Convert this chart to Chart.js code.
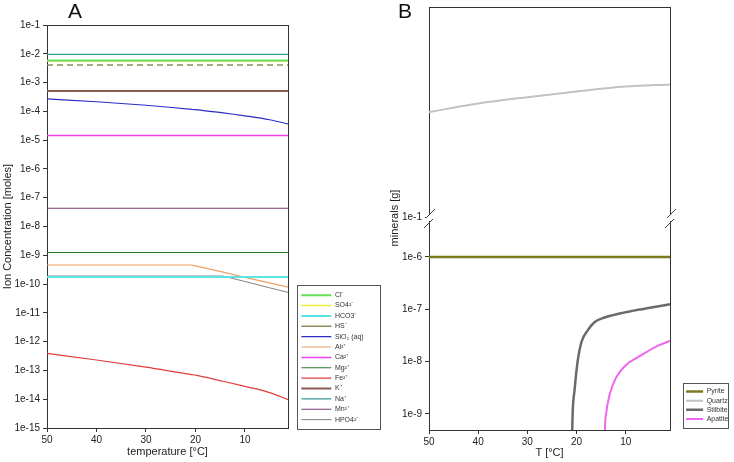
<!DOCTYPE html>
<html>
<head>
<meta charset="utf-8">
<script src="https://cdn.jsdelivr.net/npm/chart.js@4.4.1/dist/chart.umd.min.js"></script>
<style>
  body { margin: 0; background: #fff; width: 734px; height: 462px; overflow: hidden; position: relative; font-family: Arial, "Liberation Sans", sans-serif; }
  canvas { position: absolute; top: 0; }
  .panel { position: absolute; top: 0; font-size: 21px; line-height: 21px; color: #111; }
</style>
</head>
<body>
<canvas id="chartA" width="384" height="462" style="left:0"></canvas>
<canvas id="chartB" width="350" height="462" style="left:384px"></canvas>
<div class="panel" style="left:68px">A</div>
<div class="panel" style="left:398px">B</div>
<script>
// ---- panel A : ion concentrations [moles] vs temperature ----
var tempA = [50, 40, 30, 20.8, 20, 14.4, 10, 5, 1];
var cl   = [5.8e-3, 5.8e-3, 5.8e-3, 5.8e-3, 5.8e-3, 5.8e-3, 5.8e-3, 5.8e-3, 5.8e-3];
var so4  = [5.6e-3, 5.6e-3, 5.6e-3, 5.6e-3, 5.6e-3, 5.6e-3, 5.6e-3, 5.6e-3, 5.6e-3];
var hco3 = [1.75e-10, 1.75e-10, 1.75e-10, 1.75e-10, 1.75e-10, 1.75e-10, 1.75e-10, 1.75e-10, 1.75e-10];
var hs   = [4.1e-3, 4.1e-3, 4.1e-3, 4.1e-3, 4.1e-3, 4.1e-3, 4.1e-3, 4.1e-3, 4.1e-3];
var sio2 = [2.7e-4, 2.16e-4, 1.63e-4, 1.18e-4, 1.14e-4, 8.9e-5, 7.0e-5, 5.1e-5, 3.56e-5];
var al   = [4.6e-10, 4.6e-10, 4.6e-10, 4.6e-10, 4.3e-10, 2.6e-10, 1.7e-10, 1.1e-10, 7.6e-11];
var ca   = [1.45e-5, 1.45e-5, 1.45e-5, 1.45e-5, 1.45e-5, 1.45e-5, 1.45e-5, 1.45e-5, 1.45e-5];
var mg   = [1.25e-9, 1.25e-9, 1.25e-9, 1.25e-9, 1.25e-9, 1.25e-9, 1.25e-9, 1.25e-9, 1.25e-9];
var fe   = [3.9e-13, 2.3e-13, 1.3e-13, 7.2e-14, 6.9e-14, 4.2e-14, 2.8e-14, 1.7e-14, 9.3e-15];
var k    = [5.1e-4, 5.1e-4, 5.1e-4, 5.1e-4, 5.1e-4, 5.1e-4, 5.1e-4, 5.1e-4, 5.1e-4];
var na   = [9.5e-3, 9.5e-3, 9.5e-3, 9.5e-3, 9.5e-3, 9.5e-3, 9.5e-3, 9.5e-3, 9.5e-3];
var mn   = [4.3e-8, 4.3e-8, 4.3e-8, 4.3e-8, 4.3e-8, 4.3e-8, 4.3e-8, 4.3e-8, 4.3e-8];
var hpo4 = [1.9e-10, 1.9e-10, 1.9e-10, 1.9e-10, 1.9e-10, 1.9e-10, 1.23e-10, 7.4e-11, 5e-11];
var yTicksA = [1e-15, 1e-14, 1e-13, 1e-12, 1e-11, 1e-10, 1e-9, 1e-8, 1e-7, 1e-6, 1e-5, 1e-4, 1e-3, 1e-2, 1e-1];

// ---- panel B : minerals [g] vs temperature ----
var tempB = [50, 40, 30, 20, 10, 1];
var pyrite = [1e-6, 1e-6, 1e-6, 1e-6, 1e-6, 1e-6];
var quartz = [0.316, 0.347, 0.372, 0.396, 0.418, 0.428];
var tempStilbite = [20.93, 20.8, 20.4, 19.8, 19.0, 17.7, 16.3, 14.3, 11.2, 7.2, 5.1, 1];
var stilbite = [3e-10, 1e-9, 2.9e-9, 9.8e-9, 2.37e-8, 4.0e-8, 5.7e-8, 6.97e-8, 8.3e-8, 9.9e-8, 1.07e-7, 1.25e-7];
var tempApatite = [14.3, 14.2, 14.0, 13.3, 12, 10, 7, 4, 1];
var apatite = [2e-10, 6e-10, 1e-9, 2.3e-9, 4.9e-9, 8.5e-9, 1.3e-8, 1.9e-8, 2.5e-8];
var yTicksHi = [0.1];
var yTicksLo = [1e-9, 1e-8, 1e-7, 1e-6];

var xTicks = [50, 40, 30, 20, 10];

Chart.defaults.font.family = 'Arial, "Liberation Sans", sans-serif';
Chart.defaults.color = '#222';

function pts(xs, ys) {
  return xs.map(function(x, i) { return {x: x, y: ys[i]}; });
}
function expLabel(v) {
  return '1e' + Math.round(Math.log10(v));
}
function fixTicks(list) {
  return function(scale) {
    scale.ticks = list.map(function(v) { return {value: v}; });
  };
}
// fixed axis width, and no extra room asked for the end labels
function fixWidth(w) {
  return function(scale) {
    scale.width = w;
    scale.paddingTop = 0;
    scale.paddingBottom = 0;
  };
}

var tickGrid = {display: true, drawOnChartArea: false, drawTicks: true, tickLength: 4, color: '#333'};
var frameBorder = {display: true, color: '#333', width: 1};

// top frame edge, axis breaks, legend box, free y title
var decor = {
  id: 'decor',
  afterLayout: function(chart, args, opts) {
    if (opts.legendLift) chart.legend.bottom -= opts.legendLift;
  },
  afterDraw: function(chart, args, opts) {
    var a = chart.chartArea, ctx = chart.ctx;
    ctx.save();
    ctx.strokeStyle = '#333';
    ctx.lineWidth = 1;
    ctx.beginPath();
    ctx.moveTo(a.left, Math.round(a.top) + 0.5);
    ctx.lineTo(a.right, Math.round(a.top) + 0.5);
    ctx.stroke();

    if (opts.breakScale) {
      var yb = Math.round(chart.scales[opts.breakScale].bottom);
      [chart.scales[opts.breakScale].right, a.right].forEach(function(x) {
        ctx.fillStyle = '#fff';
        ctx.fillRect(x - 2, yb - 3, 4, 7);
        ctx.strokeStyle = '#444';
        ctx.beginPath();
        ctx.moveTo(x - 3, yb + 1); ctx.lineTo(x + 6, yb - 8);
        ctx.moveTo(x - 5, yb + 11); ctx.lineTo(x + 4, yb + 2);
        ctx.stroke();
      });
    }

    if (opts.legendRect) {
      var r = opts.legendRect;
      ctx.strokeStyle = '#555';
      ctx.strokeRect(r[0] + 0.5, r[1] + 0.5, r[2], r[3]);
    }

    if (opts.sideTitle) {
      ctx.translate(opts.sideTitle.x, opts.sideTitle.y);
      ctx.rotate(-Math.PI / 2);
      ctx.font = '11px Arial, "Liberation Sans", sans-serif';
      ctx.fillStyle = '#222';
      ctx.textAlign = 'center';
      ctx.textBaseline = 'middle';
      ctx.fillText(opts.sideTitle.text, 0, 0);
    }
    ctx.restore();
  }
};

function line(label, xs, ys, color, width, extra) {
  var ds = {
    label: label,
    data: pts(xs, ys),
    borderColor: color,
    backgroundColor: color,
    borderWidth: width,
    pointRadius: 0,
    fill: false
  };
  return Object.assign(ds, extra || {});
}

var smooth = {cubicInterpolationMode: 'monotone'};

new Chart(document.getElementById('chartA').getContext('2d'), {
  type: 'line',
  data: {
    datasets: [
      line('Cl⁻', tempA, cl, '#66de5a', 2),
      line('SO4²⁻', tempA, so4, '#eeee3a', 1.5),
      line('HCO3⁻', tempA, hco3, '#5ce4e4', 2),
      line('HS⁻', tempA, hs, '#8f8d5c', 1.5, {borderDash: [6, 4]}),
      line('SiO₂ (aq)', tempA, sio2, '#2c2cc6', 1.2, smooth),
      line('Al³⁺', tempA, al, '#f0a064', 1.2),
      line('Ca²⁺', tempA, ca, '#ee44ee', 1.5),
      line('Mg²⁺', tempA, mg, '#2a7a2a', 1.2),
      line('Fe²⁺', tempA, fe, '#e03c3c', 1.2, smooth),
      line('K⁺', tempA, k, '#8c5a50', 1.8),
      line('Na⁺', tempA, na, '#3a9a9a', 1.2),
      line('Mn²⁺', tempA, mn, '#7a3a7a', 1.2),
      line('HPO4²⁻', tempA, hpo4, '#808080', 1)
    ]
  },
  options: {
    responsive: false,
    animation: false,
    events: [],
    layout: {padding: {top: 25, right: 16, bottom: 2, left: 0}},
    scales: {
      x: {
        type: 'linear', reverse: true, min: 1.3, max: 50,
        afterBuildTicks: fixTicks(xTicks),
        afterFit: function(s) { s.height = 32; },
        ticks: {font: {size: 10}, padding: 2},
        grid: tickGrid, border: frameBorder,
        title: {display: true, text: 'temperature [°C]', font: {size: 11}, padding: {top: 0, bottom: 1}}
      },
      y: {
        type: 'logarithmic', min: 1e-15, max: 1e-1,
        afterBuildTicks: fixTicks(yTicksA),
        afterFit: fixWidth(47),
        ticks: {font: {size: 10}, padding: 3, autoSkip: false, callback: expLabel},
        grid: tickGrid, border: frameBorder,
        title: {display: true, text: 'Ion Concentration [moles]', font: {size: 11}, padding: {top: 1, bottom: 0}}
      },
      yR: {
        type: 'linear', position: 'right', min: 0, max: 1,
        afterFit: function(s) { s.width = 10; },
        ticks: {display: false}, grid: {display: false}, border: frameBorder
      }
    },
    plugins: {
      legend: {
        position: 'right', align: 'end', fullSize: false, maxWidth: 70,
        labels: {
          usePointStyle: true, pointStyle: 'line', pointStyleWidth: 30,
          font: {size: 7}, padding: 3.375, color: '#333'
        }
      },
      tooltip: {enabled: false},
      decor: {legendLift: 1.5, legendRect: [297, 285, 83, 144]}
    }
  },
  plugins: [decor]
});

new Chart(document.getElementById('chartB').getContext('2d'), {
  type: 'line',
  data: {
    datasets: [
      line('Pyrite', tempB, pyrite, '#7b7b1e', 2.5, {yAxisID: 'yLo'}),
      line('Quartz', tempB, quartz, '#c2c2c2', 2, {yAxisID: 'yHi', cubicInterpolationMode: 'monotone'}),
      line('Stilbite', tempStilbite, stilbite, '#6a6a6a', 2.5, {yAxisID: 'yLo', cubicInterpolationMode: 'monotone'}),
      line('Apatite', tempApatite, apatite, '#ee66ee', 2, {yAxisID: 'yLo', cubicInterpolationMode: 'monotone'})
    ]
  },
  options: {
    responsive: false,
    animation: false,
    events: [],
    layout: {padding: {top: 7, right: 5, bottom: 2, left: 0}},
    scales: {
      x: {
        type: 'linear', reverse: true, min: 1, max: 50,
        afterBuildTicks: fixTicks(xTicks),
        afterFit: function(s) { s.height = 30; },
        ticks: {font: {size: 10}, padding: 2},
        grid: tickGrid, border: frameBorder,
        title: {display: true, text: 'T [°C]', font: {size: 11}, padding: {top: 0, bottom: 0}}
      },
      yLo: {
        type: 'logarithmic', position: 'left', stack: 'minerals', stackWeight: 213,
        min: 4.94e-10, max: 5.8e-6,
        afterBuildTicks: fixTicks(yTicksLo),
        afterFit: fixWidth(45),
        ticks: {font: {size: 10}, padding: 3, autoSkip: false, callback: expLabel},
        grid: tickGrid, border: frameBorder
      },
      yHi: {
        type: 'logarithmic', position: 'left', stack: 'minerals', stackWeight: 210,
        min: 0.1, max: 1,
        afterBuildTicks: fixTicks(yTicksHi),
        afterFit: fixWidth(45),
        ticks: {font: {size: 10}, padding: 3, autoSkip: false, callback: expLabel},
        grid: tickGrid, border: frameBorder
      },
      yR: {
        type: 'linear', position: 'right', min: 0, max: 1,
        afterFit: function(s) { s.width = 14; },
        ticks: {display: false}, grid: {display: false}, border: frameBorder
      }
    },
    plugins: {
      legend: {
        position: 'right', align: 'end', fullSize: false, maxWidth: 45,
        labels: {
          usePointStyle: true, pointStyle: 'line', pointStyleWidth: 17,
          font: {size: 7}, padding: 2.125, color: '#333'
        }
      },
      tooltip: {enabled: false},
      decor: {
        legendLift: 5.5,
        legendRect: [299, 383, 45, 45],
        breakScale: 'yHi',
        sideTitle: {text: 'minerals [g]', x: 11, y: 218}
      }
    }
  },
  plugins: [decor]
});
</script>
</body>
</html>
